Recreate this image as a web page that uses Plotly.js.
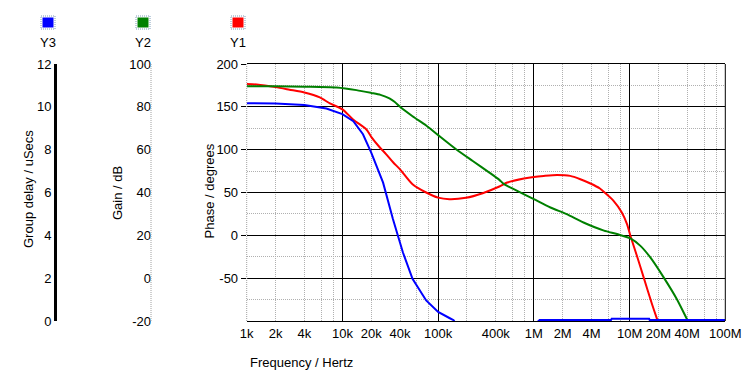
<!DOCTYPE html>
<html>
<head>
<meta charset="utf-8">
<script src="https://cdn.plot.ly/plotly-3.0.1.min.js"></script>
<style>html,body{margin:0;padding:0;background:#fff;}#chart{width:755px;height:385px;}</style>
</head>
<body>
<div id="chart"></div>
<script>
// ---- Data ----
// Y1: Phase (degrees), red
var phaseFreq = [1e3,1.27e3,2e3,2.8e3,4e3,5.8e3,7.4e3,1e4,1.3e4,1.78e4,2e4,2.4e4,2.87e4,3.4e4,4e4,5.4e4,7.5e4,1e5,1.31e5,1.95e5,2.92e5,4.36e5,5.27e5,7.87e5,1e6,1.27e6,1.75e6,2.4e6,3.06e6,3.9e6,4.9e6,5.6e6,6.8e6,8.3e6,9.4e6,1.02e7,1.19e7,1.4e7,1.71e7,1.93e7,2.1e7];
var phaseDeg  = [176.7,176,173,170,166.7,161,154,147,135,123.6,115,104,94.6,85,77,59.7,50,44,42.2,43.8,49.2,57,61.6,66.3,68.2,69.4,70.5,69.4,65.5,60.5,54.7,49.2,40.3,26.7,13.2,-0.4,-23.6,-48.8,-79.8,-97.3,-110];
// Y2: Gain (dB), green
var gainFreq = [1e3,2e3,4e3,8.7e3,1.4e4,2e4,2.5e4,3.1e4,3.5e4,4e4,5.4e4,7.5e4,1e5,1.54e5,2.3e5,3.43e5,4.36e5,4.88e5,6.7e5,1e6,1.49e6,2.2e6,3.3e6,5.4e6,7.4e6,1.02e7,1.29e7,1.64e7,2.26e7,3.1e7,3.95e7,4.5e7];
var gainDb   = [89.6,89.6,89.4,89.0,87.8,86.5,85.6,84.0,82.4,80.0,75.6,71.3,66.8,60.2,54.7,49.3,45.9,43.9,40.8,36.9,33.0,29.9,26.0,22.2,20.6,18.6,15.2,9.8,0.5,-9.6,-18.9,-24];
// Y3: Group delay (uSecs), blue
var delayFreq = [1e3,2e3,4e3,6.8e3,1e4,1.3e4,1.64e4,2e4,2.66e4,3.37e4,4.28e4,5.4e4,7.5e4,1e5,1.31e5,1.45e5,1.6e5,4e5,1e6,1.15e6,6.4e6,6.5e6,1.6e7,1.62e7,1e8];
var delayUs   = [10.17,10.16,10.08,9.92,9.66,9.33,8.72,7.86,6.46,4.76,3.21,1.97,0.96,0.42,0.14,0.04,-0.3,-0.4,-0.2,0.05,0.05,0.1,0.1,0.05,0.05];

// Axis ticks
var xLabelVals = [1e3,2e3,4e3,1e4,2e4,4e4,1e5,4e5,1e6,2e6,4e6,1e7,2e7,4e7,1e8];
var xLabelText = ['1k','2k','4k','10k','20k','40k','100k','400k','1M','2M','4M','10M','20M','40M','100M'];
var xDecades = [1e4,1e5,1e6,1e7,1e8];
var xMinor = [2e3,4e3,6e3,8e3,2e4,4e4,6e4,8e4,2e5,4e5,6e5,8e5,2e6,4e6,6e6,8e6,2e7,4e7,6e7,8e7];
var phaseTicks = [-50,0,50,100,150,200];
var phaseText = ['-50','0','50','100','150','200'];
var phaseMinor = [-75,-25,25,75,125,175];
var gainTicks = [-20,0,20,40,60,80,100];
var gainText = ['-20','0','20','40','60','80','100'];
var delayTicks = [0,2,4,6,8,10,12];
var delayText = ['0','2','4','6','8','10','12'];

var W = 755, H = 385;
function px(x){return x / W;}
function py(y){return 1 - y / H;}
var X0 = px(246.7), X1 = px(725.3);
var Y0 = py(321), Y1 = py(64);

var traces = [
  {x: phaseFreq, y: phaseDeg, xaxis:'x', yaxis:'y', mode:'lines', line:{color:'#ff0000', width:2, shape:'spline', smoothing:0.7}, name:'Y1', hoverinfo:'skip'},
  {x: gainFreq, y: gainDb, xaxis:'x', yaxis:'y2', mode:'lines', line:{color:'#008000', width:2, shape:'spline', smoothing:0.7}, name:'Y2', hoverinfo:'skip'},
  {x: delayFreq, y: delayUs, xaxis:'x', yaxis:'y3', mode:'lines', line:{color:'#0000ff', width:2}, name:'Y3', hoverinfo:'skip'},
  {x:[], y:[], xaxis:'x2', yaxis:'y', mode:'lines', hoverinfo:'skip', showlegend:false}
];

var dot = '1px,1px';
var legendItems = [
  {name:'Y3', color:'#0000ff', x0:41, x1:55},
  {name:'Y2', color:'#008000', x0:136, x1:150},
  {name:'Y1', color:'#ff0000', x0:231, x1:245}
];
var shapes = [
  {type:'line', xref:'x domain', yref:'y domain', x0:0, x1:0, y0:0, y1:1, line:{color:'#a0a0a0', width:1, dash:dot}},
  {type:'line', xref:'x domain', yref:'y domain', x0:1, x1:1, y0:0, y1:1, line:{color:'#000000', width:1}},
  {type:'line', xref:'paper', yref:'y domain', x0:px(151), x1:px(151), y0:0, y1:1, line:{color:'#a0a0a0', width:1, dash:dot}}
];
var annotations = [
  {text:'Group delay / uSecs', xref:'paper', yref:'paper', x:px(28), y:py(189), textangle:-90, showarrow:false, xanchor:'center', yanchor:'middle'},
  {text:'Gain / dB', xref:'paper', yref:'paper', x:px(118), y:py(193), textangle:-90, showarrow:false, xanchor:'center', yanchor:'middle'},
  {text:'Phase / degrees', xref:'paper', yref:'paper', x:px(209), y:py(191.5), textangle:-90, showarrow:false, xanchor:'center', yanchor:'middle'},
  {text:'Frequency / Hertz', xref:'paper', yref:'paper', x:px(248), y:py(362), showarrow:false, xanchor:'left', yanchor:'middle'}
];
legendItems.forEach(function(it){
  shapes.push({type:'rect', xref:'paper', yref:'paper', x0:px(it.x0), x1:px(it.x1), y0:py(29), y1:py(16), line:{color:'#7f9db9', width:1, dash:dot}, fillcolor:'rgba(0,0,0,0)'});
  shapes.push({type:'rect', xref:'paper', yref:'paper', x0:px(it.x0+1.5), x1:px(it.x1-1.5), y0:py(27.5), y1:py(17.5), line:{width:0}, fillcolor:it.color});
  annotations.push({text:it.name, xref:'paper', yref:'paper', x:px((it.x0+it.x1)/2), y:py(42), showarrow:false, xanchor:'center', yanchor:'middle'});
});

var layout = {
  width: W, height: H,
  margin: {l:0, r:0, t:0, b:0},
  paper_bgcolor: '#ffffff',
  plot_bgcolor: 'rgba(0,0,0,0)',
  showlegend: false,
  font: {family:'Liberation Sans, Arial, sans-serif', size:13, color:'#000000'},
  xaxis: {
    type:'log', range:[3,8], domain:[X0, X1], anchor:'y', automargin:false,
    tickmode:'array', tickvals:xLabelVals, ticktext:xLabelText, ticks:'',
    showgrid:false, zeroline:false, fixedrange:true,
    showline:true, linecolor:'#000000', linewidth:1, mirror:true, layer:'below traces'
  },
  xaxis2: {
    type:'log', range:[3,8], domain:[X0, X1], overlaying:'x', anchor:'y', automargin:false,
    tickmode:'array', tickvals:xDecades, showticklabels:false, ticks:'',
    showgrid:true, gridcolor:'#000000', gridwidth:1, zeroline:false, showline:false,
    minor:{tickmode:'array', tickvals:xMinor, showgrid:true, gridcolor:'#b0b0b0', gridwidth:1, griddash:dot, ticks:''}
  },
  yaxis: {
    range:[-100,200], domain:[Y0, Y1], anchor:'x', automargin:false,
    tickmode:'array', tickvals:phaseTicks, ticktext:phaseText, ticks:'outside', ticklen:5, tickcolor:'#000000',
    showgrid:true, gridcolor:'#000000', gridwidth:1, zeroline:false, showline:false,
    minor:{tickmode:'array', tickvals:phaseMinor, showgrid:true, gridcolor:'#b0b0b0', gridwidth:1, griddash:dot, ticks:''}
  },
  yaxis2: {
    range:[-20,100], domain:[Y0, Y1], overlaying:'y', anchor:'free', position:px(151), side:'left', automargin:false,
    tickmode:'array', tickvals:gainTicks, ticktext:gainText, ticks:'', showgrid:false, zeroline:false, showline:false
  },
  yaxis3: {
    range:[0,12], domain:[Y0, Y1], overlaying:'y', anchor:'free', position:px(55), side:'left', automargin:false,
    tickmode:'array', tickvals:delayTicks, ticktext:delayText, ticks:'', showgrid:false, zeroline:false,
    showline:true, linecolor:'#000000', linewidth:3
  },
  shapes: shapes,
  annotations: annotations
};

Plotly.newPlot('chart', traces, layout, {staticPlot:true, displayModeBar:false});
</script>
</body>
</html>
